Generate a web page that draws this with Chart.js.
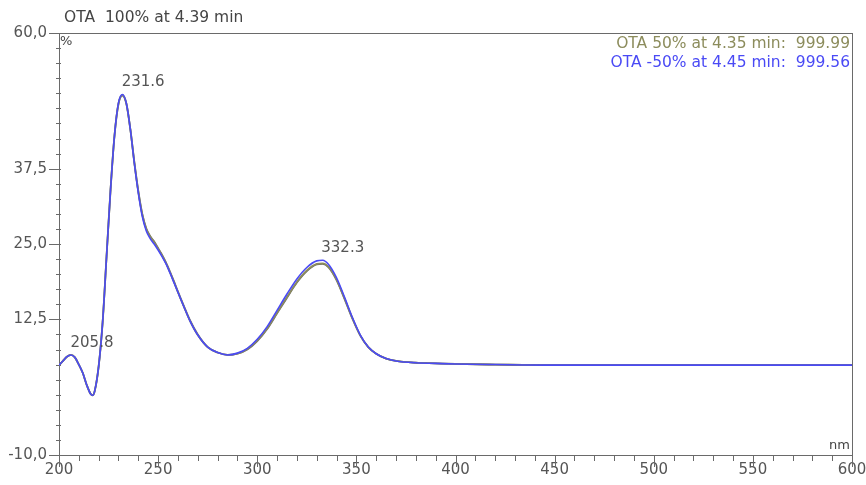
<!DOCTYPE html>
<html>
<head>
<meta charset="utf-8">
<script src="https://cdn.jsdelivr.net/npm/chart.js@4/dist/chart.umd.min.js"></script>
<style>
    html, body { margin: 0; padding: 0; background: #fff; }
    #wrap { width: 866px; height: 485px; }
</style>
</head>
<body>
<div id="wrap"><canvas id="spectrum" width="866" height="485"></canvas></div>
<script>
// wavelength (nm) and absorbance (%)
const wavelengths = [200, 202, 204, 206, 208, 210, 212, 214, 216, 217, 218, 220, 222, 224, 226, 228, 230, 232, 234, 236, 238, 240, 242, 244, 246, 248, 250, 252, 254, 256, 258, 260, 263, 266, 270, 275, 280, 285, 290, 295, 300, 305, 310, 315, 320, 325, 330, 333, 336, 340, 344, 348, 352, 356, 360, 365, 370, 380, 390, 400, 420, 450, 500, 550, 600];
const ota100 = [4.9, 5.6, 6.3, 6.6, 6.2, 5.0, 3.6, 1.6, 0.1, -0.1, 0.6, 4.7, 12.0, 23.0, 34.0, 43.0, 48.2, 49.6, 48.2, 44.0, 38.6, 33.8, 30.0, 27.6, 26.3, 25.4, 24.3, 23.2, 21.9, 20.4, 18.8, 17.1, 14.7, 12.4, 10.0, 7.9, 7.0, 6.6, 6.8, 7.5, 8.9, 10.9, 13.5, 16.1, 18.6, 20.5, 21.6, 21.7, 21.1, 19.0, 15.9, 12.6, 9.8, 7.9, 6.8, 6.0, 5.6, 5.3, 5.2, 5.1, 5.0, 4.9, 4.9, 4.9, 4.9];
const ota50 = [4.9, 5.6, 6.3, 6.6, 6.2, 5.0, 3.6, 1.6, 0.1, -0.1, 0.6, 4.7, 12.0, 23.0, 34.0, 43.0, 48.3, 49.7, 48.3, 44.0, 38.5, 33.7, 29.9, 27.5, 26.2, 25.3, 24.2, 23.1, 21.8, 20.3, 18.7, 17.0, 14.6, 12.3, 9.9, 7.9, 7.0, 6.6, 6.8, 7.6, 9.0, 11.0, 13.6, 16.2, 18.7, 20.6, 21.7, 21.8, 21.2, 19.1, 16.0, 12.7, 9.8, 7.9, 6.8, 6.0, 5.6, 5.3, 5.2, 5.1, 5.0, 4.9, 4.9, 4.9, 4.9];
const otaMinus50 = [4.9, 5.6, 6.3, 6.6, 6.2, 5.0, 3.6, 1.6, 0.1, -0.1, 0.6, 4.7, 12.0, 23.0, 34.0, 43.0, 48.4, 49.8, 48.3, 44.0, 38.4, 33.5, 29.6, 27.2, 25.9, 25.0, 24.0, 22.9, 21.7, 20.2, 18.6, 17.0, 14.6, 12.3, 9.9, 7.9, 7.0, 6.6, 6.9, 7.7, 9.2, 11.3, 14.0, 16.7, 19.2, 21.1, 22.2, 22.3, 21.6, 19.4, 16.2, 12.8, 9.9, 7.9, 6.8, 6.0, 5.6, 5.3, 5.2, 5.1, 5.0, 4.9, 4.9, 4.9, 4.9];

const seriesNames = ['OTA  100% at 4.39 min', 'OTA 50% at 4.35 min:  999.99', 'OTA -50% at 4.45 min:  999.56'];
const seriesColors = ['#6b6b6b', '#8c8c5c', '#4a4af5'];

// peak annotations
const peakWavelengths = [205.8, 231.6, 332.3];
const peakValues = [6.6, 49.8, 22.3];

// axes
const xTickValues = [200, 250, 300, 350, 400, 450, 500, 550, 600];
const yTickValues = [60, 37.5, 25, 12.5, -10];

const FONT = '"DejaVu Sans", "Liberation Sans", Arial, sans-serif';
const TEXT = '#555555';
const AXIS = '#6a6a6a';

function toPoints(values) {
    return values.map((v, i) => {
        return { x : wavelengths[i], y : v };
    });
}

function formatComma(v) {
    return v.toFixed(1).replace('.', ',');
}

/* frame, tick marks and text */
const decorations = {
    id : 'decorations',
    beforeDatasetsDraw : function(chart) {
        const ctx = chart.ctx;
        const area = chart.chartArea;
        const xs = chart.scales.x;
        const ys = chart.scales.y;

        ctx.save();
        ctx.strokeStyle = AXIS;
        ctx.lineWidth = 1;

        // box
        ctx.strokeRect(Math.round(area.left) + 0.5, Math.round(area.top) + 0.5,
            Math.round(area.right - area.left), Math.round(area.bottom - area.top));

        // y tick marks every 2.5
        for (let v = ys.min; v <= ys.max + 0.001; v += 2.5) {
            const py = Math.round(ys.getPixelForValue(v)) + 0.5;
            const major = yTickValues.indexOf(v) >= 0;
            ctx.beginPath();
            ctx.moveTo(area.left - (major ? 10 : 3), py);
            ctx.lineTo(area.left + 2, py);
            ctx.stroke();
        }

        // x tick marks every 10
        for (let v = xs.min; v <= xs.max; v += 10) {
            const px = Math.round(xs.getPixelForValue(v)) + 0.5;
            const major = xTickValues.indexOf(v) >= 0;
            ctx.beginPath();
            ctx.moveTo(px, area.bottom);
            ctx.lineTo(px, area.bottom + (major ? 12 : 6));
            ctx.stroke();
        }

        // title and axis units
        ctx.fillStyle = '#444444';
        ctx.font = '15.5px ' + FONT;
        ctx.textAlign = 'left';
        ctx.textBaseline = 'middle';
        ctx.fillText(seriesNames[0], area.left + 5, area.top - 15);
        ctx.font = '13px ' + FONT;
        ctx.fillText('%', area.left + 1, area.top + 9);
        ctx.textAlign = 'right';
        ctx.fillText('nm', area.right - 2, area.bottom - 9);

        // right side legend
        ctx.font = '15.5px ' + FONT;
        ctx.fillStyle = seriesColors[1];
        ctx.fillText(seriesNames[1], area.right - 2, area.top + 11);
        ctx.fillStyle = seriesColors[2];
        ctx.fillText(seriesNames[2], area.right - 2, area.top + 30);
        ctx.restore();
    },
    afterDatasetsDraw : function(chart) {
        const ctx = chart.ctx;
        const xs = chart.scales.x;
        const ys = chart.scales.y;

        ctx.save();
        ctx.fillStyle = TEXT;
        ctx.font = '15px ' + FONT;
        ctx.textAlign = 'left';
        ctx.textBaseline = 'middle';
        peakWavelengths.forEach((nm, i) => {
            const px = xs.getPixelForValue(nm);
            const py = ys.getPixelForValue(peakValues[i]);
            ctx.fillText(nm.toFixed(1), px, py - 12);
        });
        ctx.restore();
    }
};

// blue (-50%) drawn last, on top
const datasets = [ota100, ota50, otaMinus50].map((values, i) => {
    return {
        label : seriesNames[i],
        data : toPoints(values),
        borderColor : seriesColors[i],
        borderWidth : i === 2 ? 1.6 : 1.8,
        pointRadius : 0,
        fill : false,
        order : 2 - i,
        tension : 0.4,
        cubicInterpolationMode : 'monotone'
    };
});

new Chart(document.getElementById('spectrum').getContext('2d'), {
    type : 'line',
    data : { datasets : datasets },
    plugins : [decorations],
    options : {
        responsive : false,
        animation : false,
        layout : {
            padding : { left : 0, top : 33, right : 14, bottom : 0 }
        },
        plugins : {
            legend : { display : false },
            tooltip : { enabled : false }
        },
        scales : {
            x : {
                type : 'linear',
                min : 200,
                max : 600,
                grid : { display : false, drawTicks : false },
                border : { display : false },
                afterBuildTicks : function(scale) {
                    scale.ticks = xTickValues.map((v) => ({ value : v }));
                },
                afterFit : function(scale) {
                    scale.height = 30;
                    scale.paddingLeft = 0;
                    scale.paddingRight = 0;
                },
                ticks : {
                    autoSkip : false,
                    maxRotation : 0,
                    padding : 6,
                    color : TEXT,
                    font : { family : FONT, size : 15 },
                    callback : (v) => String(v)
                }
            },
            y : {
                min : -10,
                max : 60,
                grid : { display : false, drawTicks : false },
                border : { display : false },
                afterBuildTicks : function(scale) {
                    scale.ticks = yTickValues.map((v) => ({ value : v }));
                },
                afterFit : function(scale) {
                    scale.width = 59;
                    scale.paddingTop = 0;
                    scale.paddingBottom = 0;
                },
                ticks : {
                    autoSkip : false,
                    padding : 12,
                    color : TEXT,
                    font : { family : FONT, size : 15 },
                    callback : (v) => formatComma(v)
                }
            }
        }
    }
});
</script>
</body>
</html>
